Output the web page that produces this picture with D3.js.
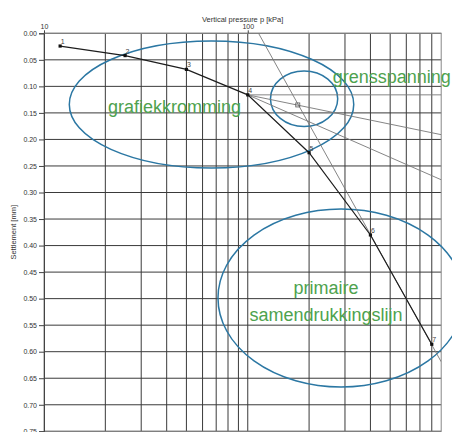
<!DOCTYPE html>
<html lang="en">
<head>
<meta charset="UTF-8">
<title>Settlement vs vertical pressure</title>
<style>
  body { margin: 0; background: #fff; overflow: hidden; }
  svg { display: block; font-family: "Liberation Sans", Arial, sans-serif; }
  .grid line { stroke: #3a3a3a; stroke-width: 1; }
  .frame { fill: none; stroke: #888; stroke-width: 1; }
  .axis-text { fill: #333; font-size: 7px; }
  .title { fill: #333; font-size: 7.5px; }
  .construct { stroke: #777; stroke-width: 0.9; fill: none; }
  .curve { stroke: #1e1e1e; stroke-width: 1.2; fill: none; }
  .ellipse { fill: none; stroke: #2b77a3; stroke-width: 1.5; }
  .note { fill: #4ea24e; font-size: 18px; }
  .pt-label { fill: #444; font-size: 7px; }
</style>
<script src="https://d3js.org/d3.v7.min.js"></script>
</head>
<body>
<svg id="chart" width="452" height="432"></svg>
<script>
// oedometer test points
const pressure = [12, 25, 50, 100, 200, 400, 800];
const settlement = [0.024, 0.042, 0.068, 0.116, 0.225, 0.38, 0.586];
const pointLabels = ["1", "2", "3", "4", "5", "6", "7"];

// axes
const pTickValues = [10, 100];
const pGridValues = [20, 30, 40, 50, 60, 70, 80, 90, 100, 200, 300, 400, 500, 600, 700, 800];
const sTickValues = [0, 0.05, 0.10, 0.15, 0.20, 0.25, 0.30, 0.35, 0.40, 0.45, 0.50, 0.55, 0.60, 0.65, 0.70, 0.75];

// construction lines (pressure, settlement)
const virginLine = [[113, 0], [890, 0.619]];
const horizontalLine = [[100, 0.116], [890, 0.116]];
const tangentLine = [[100, 0.116], [890, 0.276]];
const bisectorLine = [[100, 0.116], [890, 0.191]];
const preconsolidation = [176, 0.135];

// ellipses: centre (p, s), half width in log decades, half height in settlement
const ellipseP = [66.4, 189, 287];
const ellipseS = [0.134, 0.1234, 0.4988];
const ellipseRxDecades = [0.698, 0.165, 0.604];
const ellipseRyS = [0.1197, 0.0524, 0.1677];

// annotations
const noteText = ["grafiekkromming", "grensspanning", "primaire", "samendrukkingslijn"];
const noteP = [20.6, 261, 242, 242];
const noteS = [0.150, 0.0937, 0.491, 0.542];
const noteAnchor = ["start", "start", "middle", "middle"];

const svg = d3.select("#chart");
const m = { left: 44, right: 441.2, top: 33.3, bottom: 431.3 };

const x = d3.scaleLog().domain([10, 890]).range([m.left, m.right]);
const y = d3.scaleLinear().domain([0, 0.75]).range([m.top, m.bottom]);

svg.append("defs").append("clipPath").attr("id", "plot")
  .append("rect").attr("x", m.left).attr("y", m.top)
  .attr("width", m.right - m.left).attr("height", m.bottom - m.top);

// grid
const grid = svg.append("g").attr("class", "grid");
grid.selectAll(".v").data(pGridValues).enter().append("line")
  .attr("x1", d => x(d)).attr("x2", d => x(d))
  .attr("y1", m.top).attr("y2", m.bottom);
grid.selectAll(".h").data(sTickValues).enter().append("line")
  .attr("x1", m.left).attr("x2", m.right)
  .attr("y1", d => y(d)).attr("y2", d => y(d));

svg.append("rect").attr("class", "frame")
  .attr("x", m.left).attr("y", m.top)
  .attr("width", m.right - m.left).attr("height", m.bottom - m.top);

// left axis
const yAxis = d3.axisLeft(y).tickValues(sTickValues).tickFormat(d3.format(".2f")).tickSize(5).tickPadding(2);
const gy = svg.append("g").attr("transform", `translate(${m.left},0)`).call(yAxis);
gy.select(".domain").attr("stroke", "#444");
gy.selectAll(".tick line").attr("stroke", "#444");
gy.selectAll("text").attr("class", "axis-text");
gy.attr("font-size", null).attr("font-family", null);

// top axis
const xAxis = d3.axisTop(x).tickValues(pTickValues).tickFormat(d3.format("d")).tickSize(3).tickPadding(1);
const gx = svg.append("g").attr("transform", `translate(0,${m.top})`).call(xAxis);
gx.select(".domain").remove();
gx.selectAll(".tick line").attr("stroke", "#444");
gx.selectAll("text").attr("class", "axis-text");
gx.attr("font-size", null).attr("font-family", null);

svg.append("text").attr("class", "title")
  .attr("x", (m.left + m.right) / 2).attr("y", 21.5)
  .attr("text-anchor", "middle")
  .text("Vertical pressure p [kPa]");

svg.append("text").attr("class", "title")
  .attr("transform", `translate(16,${(m.top + m.bottom) / 2}) rotate(-90)`)
  .attr("text-anchor", "middle")
  .text("Settlement [mm]");

// ellipses and notes are drawn over the frame, not clipped
svg.selectAll(".ellipse").data(ellipseP).enter().append("ellipse")
  .attr("class", "ellipse")
  .attr("cx", d => x(d))
  .attr("cy", (d, i) => y(ellipseS[i]))
  .attr("rx", (d, i) => x(d * Math.pow(10, ellipseRxDecades[i])) - x(d))
  .attr("ry", (d, i) => y(ellipseS[i] + ellipseRyS[i]) - y(ellipseS[i]));

svg.selectAll(".note").data(noteText).enter().append("text")
  .attr("class", "note")
  .attr("x", (d, i) => x(noteP[i]))
  .attr("y", (d, i) => y(noteS[i]))
  .attr("text-anchor", (d, i) => noteAnchor[i])
  .text(d => d);

const plot = svg.append("g").attr("clip-path", "url(#plot)");

// construction lines
const seg = d3.line().x(d => x(d[0])).y(d => y(d[1]));
[virginLine, horizontalLine, tangentLine, bisectorLine].forEach(l => {
  plot.append("path").attr("class", "construct").attr("d", seg(l));
});

plot.append("rect")
  .attr("x", x(preconsolidation[0]) - 2).attr("y", y(preconsolidation[1]) - 2)
  .attr("width", 4).attr("height", 4)
  .attr("fill", "none").attr("stroke", "#555").attr("stroke-width", 0.8);

// test curve
const pts = pressure.map((p, i) => [p, settlement[i]]);
plot.append("path").attr("class", "curve").attr("d", seg(pts));

plot.selectAll(".pt").data(pts).enter().append("rect")
  .attr("x", d => x(d[0]) - 1.6).attr("y", d => y(d[1]) - 1.6)
  .attr("width", 3.2).attr("height", 3.2)
  .attr("fill", "#111");

plot.selectAll(".pt-label").data(pts).enter().append("text")
  .attr("class", "pt-label")
  .attr("x", d => x(d[0]) + 0.5)
  .attr("y", d => y(d[1]) - 2)
  .text((d, i) => pointLabels[i]);
</script>
</body>
</html>
